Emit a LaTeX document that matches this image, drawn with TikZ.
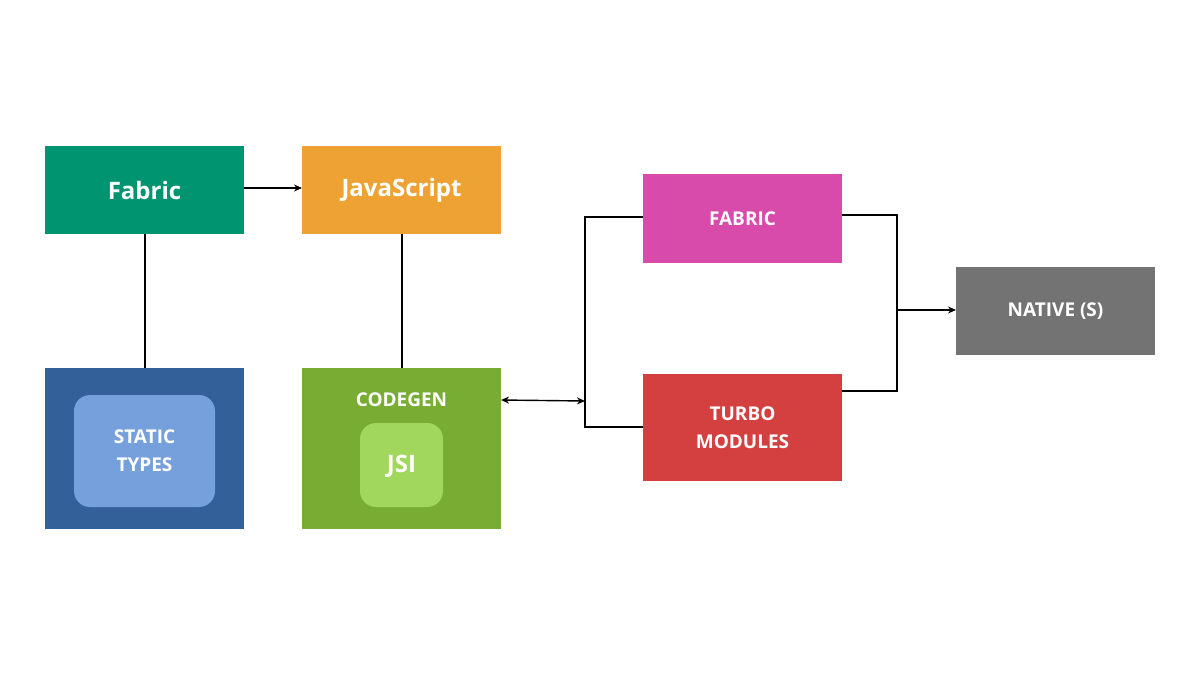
\documentclass[tikz,border=0pt]{standalone}
\usepackage{fontspec}
\setmainfont{Open Sans}
\usetikzlibrary{arrows.meta}
\definecolor{cgreen}{HTML}{009470}
\definecolor{corange}{HTML}{EDA233}
\definecolor{cblue}{HTML}{34609A}
\definecolor{clblue}{HTML}{76A0DC}
\definecolor{cgreen2}{HTML}{78AC33}
\definecolor{clgreen}{HTML}{A2D75E}
\definecolor{cpink}{HTML}{D84BAA}
\definecolor{cred}{HTML}{D43F3F}
\definecolor{cgray}{HTML}{737373}
\begin{document}
\begin{tikzpicture}[x=0.5pt,y=-0.5pt,
 box/.style={inner sep=0pt,text=white,font=\bfseries,align=center},
 big/.style={font=\bfseries\fontsize{12}{14}\selectfont},
 sml/.style={font=\bfseries\fontsize{9.5}{14}\selectfont},
 ln/.style={line width=0.7pt,black},
 tip/.style={-{Stealth[length=4pt,width=3.5pt]}}]
\useasboundingbox (0,0) rectangle (1200,675);
\fill[white] (0,0) rectangle (1200,675);
\fill[cgreen] (45,146) rectangle (244,234);
\node[box,big] (fab) at (144.5,190) {Fabric};
\fill[corange] (302,146) rectangle (501,234);
\node[box,big] (js) at (401.5,190) {JavaScript};
\fill[cblue] (45,368) rectangle (244,529);
\fill[clblue,rounded corners=8pt] (74,395) rectangle (215,507);
\node[box,sml] (st) at (144.5,451) {STATIC\\TYPES};
\fill[cgreen2] (302,368) rectangle (501,529);
\node[box,sml] (cg) at (401.5,400) {CODEGEN};
\fill[clgreen,rounded corners=8pt] (360,423) rectangle (443,507);
\node[box,big] (jsi) at (401.5,466) {JSI};
\fill[cpink] (643,174) rectangle (842,263);
\node[box,sml] (fb) at (742.5,219) {FABRIC};
\fill[cred] (643,374) rectangle (842,481);
\node[box,sml] (tm) at (742.5,428) {TURBO\\MODULES};
\fill[cgray] (956,267) rectangle (1155,355);
\node[box,sml] (nat) at (1055.5,311) {NATIVE (S)};
\coordinate (fabR) at (244,188); \coordinate (jsL) at (302,188);
\draw[ln,tip] (fabR) -- (jsL);
\coordinate (fabB) at (145,234); \coordinate (stT) at (145,368);
\draw[ln] (fabB) -- (stT);
\coordinate (jsB) at (402,234); \coordinate (cgT) at (402,368);
\draw[ln] (jsB) -- (cgT);
\coordinate (cgR) at (501,400); \coordinate (br) at (585,401);
\draw[ln,{Stealth[length=4pt,width=3.5pt]}-{Stealth[length=4pt,width=3.5pt]}] (cgR) -- (br);
\coordinate (fbL) at (643,217); \coordinate (tmL) at (643,427);
\draw[ln] (fbL) -- (585,217) -- (585,427) -- (tmL);
\coordinate (fbR) at (842,215); \coordinate (tmR) at (842,391);
\draw[ln] (fbR) -- (897,215) -- (897,391) -- (tmR);
\coordinate (mid) at (897,310); \coordinate (natL) at (956,310);
\draw[ln,tip] (mid) -- (natL);
\end{tikzpicture}
\end{document}
